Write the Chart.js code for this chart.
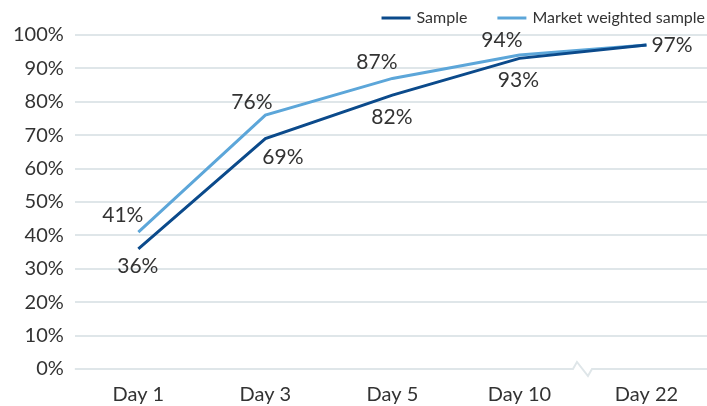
<!DOCTYPE html>
<html>
<head>
<meta charset="utf-8">
<script src="https://cdn.jsdelivr.net/npm/chart.js@4/dist/chart.umd.min.js"></script>
<style>
  html, body { margin: 0; padding: 0; background: #fff; overflow: hidden; }
  #wrap { width: 710px; height: 406px; position: relative; }
</style>
</head>
<body>
<div id="wrap"><canvas id="c"></canvas></div>
<script>
// Share of responses received by each reporting day
const days = ['Day 1', 'Day 3', 'Day 5', 'Day 10', 'Day 22'];
const sample = [36, 69, 82, 93, 97];
const marketWeighted = [41, 76, 87, 94, 97];
const yTicks = [0, 10, 20, 30, 40, 50, 60, 70, 80, 90, 100];

const DARK = '#0b4a8b';
const LIGHT = '#5ca6d9';
const GRID = '#dfe6e9';
const TEXT = '#333333';
const FONT = 'Lato, "Noto Sans", sans-serif';

// Label placement relative to each point (dx, dy in px; null = not drawn)
const sampleLabelOffsets = [[-0.5, 17.5], [17.5, 18.5], [-0.5, 22.5], [-1, 22], [25.5, 0]];
const weightedLabelOffsets = [[-15.5, -16.5], [-13.5, -12.5], [-15.5, -16], [-17.5, -15], null];

// Value labels next to the line points
const valueLabels = {
  id: 'valueLabels',
  afterDatasetsDraw(chart) {
    const ctx = chart.ctx;
    ctx.save();
    ctx.font = '21px ' + FONT;
    ctx.fillStyle = TEXT;
    ctx.textAlign = 'center';
    ctx.textBaseline = 'middle';
    const offsets = [sampleLabelOffsets, weightedLabelOffsets];
    chart.data.datasets.forEach((ds, di) => {
      const meta = chart.getDatasetMeta(di);
      meta.data.forEach((pt, i) => {
        const off = offsets[di][i];
        if (!off) return;
        ctx.fillText(ds.data[i] + '%', pt.x + off[0], pt.y + off[1]);
      });
    });
    ctx.restore();
  }
};

// Legend row in the top-right corner, built from the datasets
const topLegend = {
  id: 'topLegend',
  afterDraw(chart) {
    const ctx = chart.ctx;
    const right = 705, y = 18, swatch = 29, gap = 6, between = 30;
    ctx.save();
    ctx.font = '16px ' + FONT;
    ctx.textBaseline = 'middle';
    ctx.textAlign = 'left';
    let x = right;
    const items = chart.data.datasets.slice().reverse();
    items.forEach(ds => {
      const w = ctx.measureText(ds.label).width;
      const tx = x - w;
      ctx.fillStyle = TEXT;
      ctx.fillText(ds.label, tx, y);
      const lx1 = tx - gap, lx0 = lx1 - swatch;
      ctx.strokeStyle = ds.borderColor;
      ctx.lineWidth = 3;
      ctx.beginPath();
      ctx.moveTo(lx0, y);
      ctx.lineTo(lx1, y);
      ctx.stroke();
      x = lx0 - between;
    });
    ctx.restore();
  }
};

// Zero baseline drawn with a break mark between the last two categories
const brokenBaseline = {
  id: 'brokenBaseline',
  beforeDatasetsDraw(chart) {
    const { ctx, chartArea, scales } = chart;
    const y = scales.y.getPixelForValue(0);
    const xb = (scales.x.getPixelForValue(3) + scales.x.getPixelForValue(4)) / 2;
    ctx.save();
    ctx.strokeStyle = GRID;
    ctx.lineWidth = 2;
    ctx.beginPath();
    ctx.moveTo(chartArea.left, y);
    ctx.lineTo(xb - 10, y);
    ctx.lineTo(xb - 6, y - 7);
    ctx.lineTo(xb + 5, y + 7);
    ctx.lineTo(xb + 9, y);
    ctx.lineTo(chartArea.right, y);
    ctx.stroke();
    ctx.restore();
  }
};

new Chart(document.getElementById('c'), {
  type: 'line',
  data: {
    labels: days,
    datasets: [
      { label: 'Sample', data: sample, borderColor: DARK, backgroundColor: DARK,
        borderWidth: 3, pointRadius: 0, tension: 0 },
      { label: 'Market weighted sample', data: marketWeighted, borderColor: LIGHT, backgroundColor: LIGHT,
        borderWidth: 3, pointRadius: 0, tension: 0 }
    ]
  },
  options: {
    responsive: true,
    maintainAspectRatio: false,
    animation: false,
    layout: { padding: { top: 35, right: 0, left: 2, bottom: -7 } },
    plugins: {
      legend: { display: false },
      tooltip: { enabled: false }
    },
    scales: {
      x: {
        offset: true,
        grid: { display: false },
        border: { display: false },
        ticks: { color: TEXT, font: { family: FONT, size: 20 }, padding: 6, maxRotation: 0 }
      },
      y: {
        min: 0, max: 100,
        afterBuildTicks(axis) { axis.ticks = yTicks.map(v => ({ value: v })); },
        grid: {
          color: ctx => (ctx.tick && ctx.tick.value === 0) ? 'rgba(0,0,0,0)' : GRID,
          lineWidth: 2, drawTicks: false
        },
        border: { display: false },
        ticks: { color: TEXT, font: { family: FONT, size: 20 }, padding: 11,
                 callback: v => v + '%' }
      }
    }
  },
  plugins: [brokenBaseline, valueLabels, topLegend]
});
</script>
</body>
</html>
